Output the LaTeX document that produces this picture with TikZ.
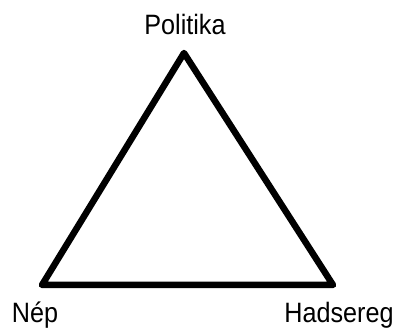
\documentclass[tikz,border=0pt]{standalone}
\usepackage{fontspec}
\setmainfont{Liberation Sans}
\usetikzlibrary{positioning}

\newcommand{\narrow}[1]{\scalebox{0.9}[1]{#1}}

\begin{document}
\begin{tikzpicture}[
    x=1pt, y=1pt,
    lbl/.style={inner sep=0pt, anchor=base, font=\fontsize{28}{30}\selectfont},
    side/.style={line width=6.5pt, line join=round},
]
\useasboundingbox (0,0) rectangle (394,329);
% corners of the triangle
\coordinate (top) at (184,276);
\coordinate (left) at (42,44);
\coordinate (right) at (333,44);

\node[lbl] (politika) at (185,294) {\narrow{Politika}};
\node[lbl] (nep) at (35,6) {\narrow{Nép}};
\node[lbl] (hadsereg) at (339,6) {\narrow{Hadsereg}};

\draw[side] (top) -- (left) -- (right) -- cycle;
\end{tikzpicture}
\end{document}
